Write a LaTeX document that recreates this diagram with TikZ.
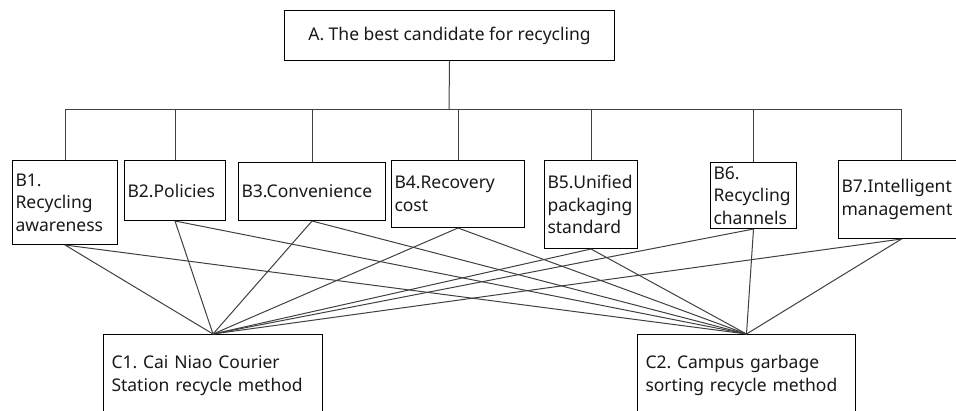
\documentclass[tikz,border=0pt]{standalone}
\usepackage{fontspec}
\setmainfont{Noto Sans}
\frenchspacing
\NewDocumentCommand{\critfont}{}{\fontsize{8.75pt}{11.25pt}\selectfont}
\tikzset{
  crit/.style={draw, anchor=north west, align=left, inner xsep=1.5pt, inner ysep=0pt, font=\critfont, text=black!90},
  link/.style={draw=black!75},
}

\begin{document}
\begin{tikzpicture}[x=0.5pt, y=-0.5pt, line width=0.5pt]
    \useasboundingbox (0,0) rectangle (956,411);
    \clip (0,0) rectangle (956,411);

    \node[crit, align=center, minimum width=165pt, minimum height=25pt] (a) at (284,10) {A. The best candidate for recycling};

    \node[crit, text width=49.5pt, minimum height=42pt] (b1) at (12,160) {B1.\\Recycling\\awareness};
    \node[crit, text width=47.5pt, minimum height=30pt] (b2) at (124,160) {B2.Policies};
    \node[crit, text width=70.5pt, minimum height=29pt] (b3) at (238,162) {B3.Convenience};
    \node[crit, text width=63.5pt, minimum height=33.5pt] (b4) at (391,160) {B4.Recovery\\cost};
    \node[crit, text width=43.5pt, minimum height=44pt] (b5) at (544,160) {B5.Unified\\packaging\\standard};
    \node[crit, text width=40pt, minimum height=33pt] (b6) at (710,162) {B6.\\Recycling\\channels};
    \node[crit, text width=60pt, minimum height=39pt] (b7) at (838,160) {B7.Intelligent\\management};

    \node[crit, inner xsep=4pt, text width=101.5pt, minimum height=41pt] (c1) at (103,334) {C1. Cai Niao Courier\\Station recycle method};
    \node[crit, inner xsep=4pt, text width=101pt, minimum height=41pt] (c2) at (637,334) {C2. Campus garbage\\sorting recycle method};

    % tree from goal to criteria
    \coordinate (bus) at (449,110);
    \draw[link] (a.south) -- (bus);
    \foreach \i in {1,...,7}
        \draw[link] (bus) -| (b\i.north);

    % every criterion to both options
    \foreach \i in {1,...,7} {
        \draw[link] (b\i.south) -- (c1.north);
        \draw[link] (b\i.south) -- (c2.north);
    }
\end{tikzpicture}
\end{document}
